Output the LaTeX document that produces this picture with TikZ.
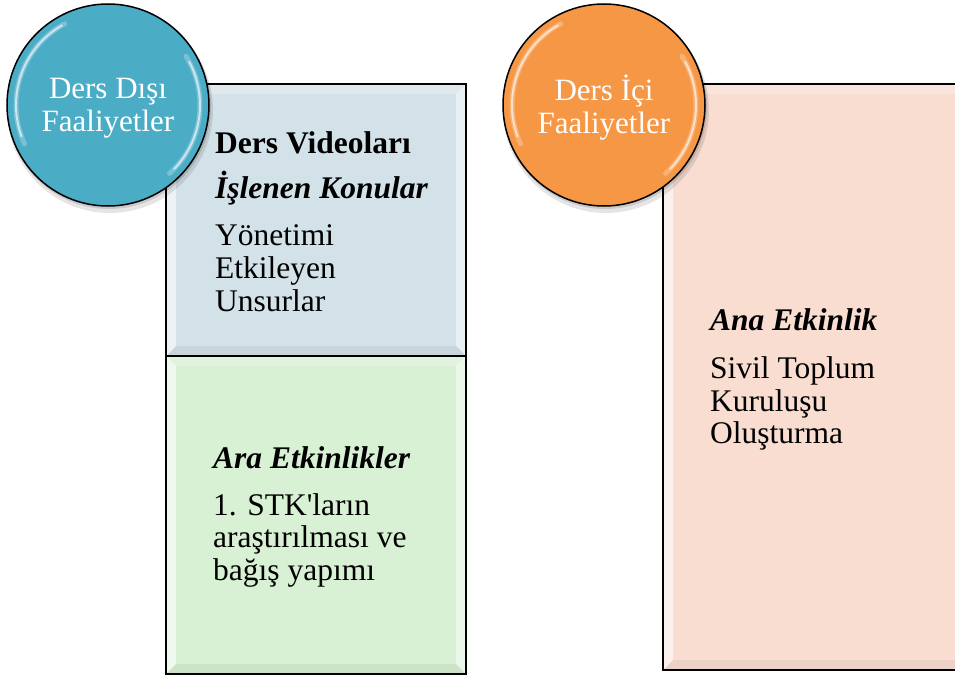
\documentclass[tikz,border=0pt]{standalone}
\usepackage{fontspec}
\setmainfont{Liberation Serif}
\definecolor{cblue}{RGB}{75,172,198}
\definecolor{corange}{RGB}{246,151,70}
\definecolor{bxblue}{RGB}{211,225,232}
\definecolor{bxgreen}{RGB}{216,240,211}
\definecolor{bxpink}{RGB}{249,221,209}
\newcommand\bevbox[5]{%
  \fill[#5] (#1,#2) rectangle (#3,#4);
  \fill[white,opacity=0.6] (#1,#2) -- (#1+10,#2+10) -- (#1+10,#4-10) -- (#1,#4) -- cycle;
  \fill[white,opacity=0.5] (#3,#2) -- (#3-10,#2+10) -- (#3-10,#4-10) -- (#3,#4) -- cycle;
  \fill[white,opacity=0.25] (#1,#2) -- (#1+10,#2+10) -- (#3-10,#2+10) -- (#3,#2) -- cycle;
  \fill[black,opacity=0.05] (#1,#4) -- (#1+10,#4-10) -- (#3-10,#4-10) -- (#3,#4) -- cycle;
  \draw[line width=1.8pt] (#1,#2) rectangle (#3,#4);
}
\begin{document}
\begin{tikzpicture}[x=1pt,y=-1pt,
  txt/.style={anchor=base west, inner sep=0pt, font=\fontsize{31.5}{33}\selectfont},
  hdr/.style={txt, font=\fontsize{31.5}{33}\selectfont\bfseries},
  hdri/.style={txt, font=\fontsize{31.5}{33}\selectfont\bfseries\itshape},
  ball/.style={circle, minimum size=202pt, inner sep=0pt, draw=black, line width=1.5pt},
  balltxt/.style={text=white, align=center, font=\fontsize{31}{33}\selectfont, inner sep=0pt},
  gloss/.style={white, line cap=round}]
\useasboundingbox (0,0) rectangle (955,677);
% boxes
\bevbox{166}{84}{466}{356}{bxblue}
\bevbox{166}{356}{466}{674}{bxgreen}
\bevbox{663}{84}{968}{670}{bxpink}
% texts left top
\node[hdr]  (t1) at (215,153) {Ders Videoları};
\node[hdri] (t2) at (215,198) {İşlenen Konular};
\node[txt]  (t3) at (215,245) {Yönetimi};
\node[txt]  (t4) at (215,278) {Etkileyen};
\node[txt]  (t5) at (215,311) {Unsurlar};
% texts left bottom
\node[hdri] (g1) at (213,468) {Ara Etkinlikler};
\node[txt]  (g2) at (213,515) {1. STK\textquotesingle ların};
\node[txt]  (g3) at (213,547) {araştırılması ve};
\node[txt]  (g4) at (213,580) {bağış yapımı};
% texts right
\node[hdri] (p1) at (710,330) {Ana Etkinlik};
\node[txt]  (p2) at (710,378) {Sivil Toplum};
\node[txt]  (p3) at (710,411) {Kuruluşu};
\node[txt]  (p4) at (710,443) {Oluşturma};
% circles
\foreach \cx/\nm/\col/\lab in {108/c1/cblue/{Ders Dışı\\Faaliyetler}, 604/c2/corange/{Ders İçi\\Faaliyetler}}{
  \fill[black,opacity=0.10] (\cx+2,110) circle (103);
  \fill[black,opacity=0.12] (\cx+1,107) circle (102);
  \node[ball, fill=\col] (\nm) at (\cx,105) {};
  \draw[gloss, opacity=0.25, line width=5pt] (\cx,105) ++(-118:92) arc (-118:-205:92);
  \draw[gloss, opacity=0.6, line width=2pt] (\cx,105) ++(-120:92) arc (-120:-200:92);
  \draw[gloss, opacity=0.25, line width=5pt] (\cx,105) ++(-32:92) arc (-32:48:92);
  \draw[gloss, opacity=0.6, line width=2pt] (\cx,105) ++(-28:92) arc (-28:44:92);
  \node[balltxt] (\nm t) at (\cx,108) {\lab};
}
\end{tikzpicture}
\end{document}
